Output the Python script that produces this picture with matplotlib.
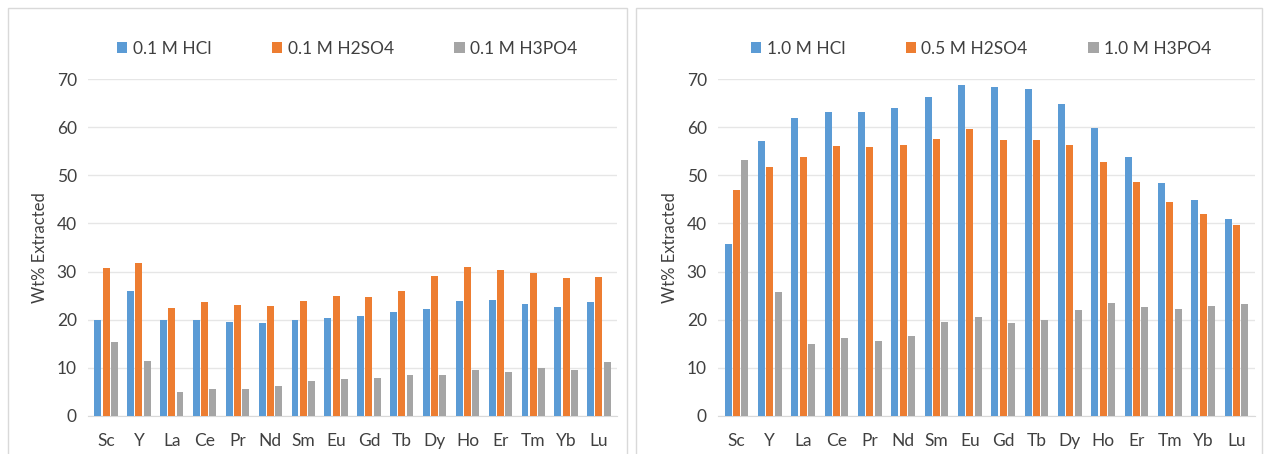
import numpy as np
import matplotlib
matplotlib.use("Agg")
import matplotlib.pyplot as plt
from matplotlib.patches import Rectangle

plt.rcParams["font.family"] = ["Lato", "DejaVu Sans"]

# ==========================
# DATA
# ==========================

elements = ["Sc", "Y", "La", "Ce", "Pr", "Nd", "Sm", "Eu",
            "Gd", "Tb", "Dy", "Ho", "Er", "Tm", "Yb", "Lu"]

# dilute acids (0.1 M)
hcl_01 = [20.0, 25.9, 20.0, 20.0, 19.6, 19.4, 19.9, 20.4,
          20.8, 21.5, 22.2, 23.9, 24.1, 23.3, 22.6, 23.6]
h2so4_01 = [30.7, 31.7, 22.4, 23.7, 23.0, 22.8, 23.9, 25.0,
            24.8, 25.9, 29.1, 30.9, 30.3, 29.8, 28.7, 28.9]
h3po4_01 = [15.3, 11.5, 4.9, 5.7, 5.7, 6.3, 7.2, 7.6,
            7.9, 8.5, 8.6, 9.5, 9.2, 9.9, 9.6, 11.3]

# stronger acids
hcl_10 = [35.7, 57.1, 62.0, 63.1, 63.1, 64.0, 66.2, 68.7,
          68.3, 67.9, 64.8, 59.8, 53.7, 48.4, 44.8, 41.0]
h2so4_05 = [47.0, 51.7, 53.8, 56.0, 55.8, 56.2, 57.6, 59.6,
            57.4, 57.4, 56.3, 52.8, 48.6, 44.4, 41.9, 39.6]
h3po4_10 = [53.1, 25.8, 14.9, 16.3, 15.6, 16.7, 19.6, 20.6,
            19.4, 19.9, 22.1, 23.5, 22.7, 22.3, 22.9, 23.3]

left_labels = ["0.1 M HCl", "0.1 M H2SO4", "0.1 M H3PO4"]
right_labels = ["1.0 M HCl", "0.5 M H2SO4", "1.0 M H3PO4"]

colors = ["#5B9BD5", "#ED7D31", "#A5A5A5"]

# ==========================
# FIGURE
# ==========================

fig = plt.figure(figsize=(12.67, 4.54), dpi=100)

# panel frames
for x0, w in [(8, 619), (636, 626)]:
    fig.patches.append(Rectangle(
        (x0 / 1267, -0.05), w / 1267, (446 + 23) / 454,
        transform=fig.transFigure, fill=False,
        edgecolor="#D9D9D9", linewidth=1.0))

ax_left = fig.add_axes([88 / 1267, 1 - 416 / 454, 529 / 1267, 337 / 454])
ax_right = fig.add_axes([718 / 1267, 1 - 416 / 454, 537 / 1267, 337 / 454])


def draw_panel(ax, series, labels):
    x = np.arange(len(elements))
    width = 0.21
    offsets = [-0.25, 0, 0.25]

    for vals, lab, col, off in zip(series, labels, colors, offsets):
        ax.bar(x + off, vals, width, color=col, label=lab, zorder=3)

    ax.set_xlim(-0.55, len(elements) - 0.45)
    ax.set_ylim(0, 70)
    ax.set_yticks(range(0, 71, 10))
    ax.set_xticks(x)
    ax.set_xticklabels(elements)

    ax.grid(axis="y", color="#E6E6E6", linewidth=1.0, zorder=0)
    ax.set_axisbelow(True)

    for side in ["top", "right", "left"]:
        ax.spines[side].set_visible(False)
    ax.spines["bottom"].set_color("#D9D9D9")

    ax.tick_params(axis="y", length=0, labelsize=12.5,
                   colors="#404040", pad=8)
    ax.tick_params(axis="x", length=0, labelsize=12.5,
                   colors="#404040", pad=12)

    ax.set_ylabel("Wt% Extracted", fontsize=12, color="#404040",
                  labelpad=6)

    ax.legend(loc="center", bbox_to_anchor=(0.49, 1.09), ncol=3,
              frameon=False, fontsize=12.5, handlelength=0.6,
              handleheight=0.6, handletextpad=0.3, columnspacing=3.5,
              labelcolor="#404040")


draw_panel(ax_left, [hcl_01, h2so4_01, h3po4_01], left_labels)
draw_panel(ax_right, [hcl_10, h2so4_05, h3po4_10], right_labels)

plt.savefig("out.png", dpi=100)
